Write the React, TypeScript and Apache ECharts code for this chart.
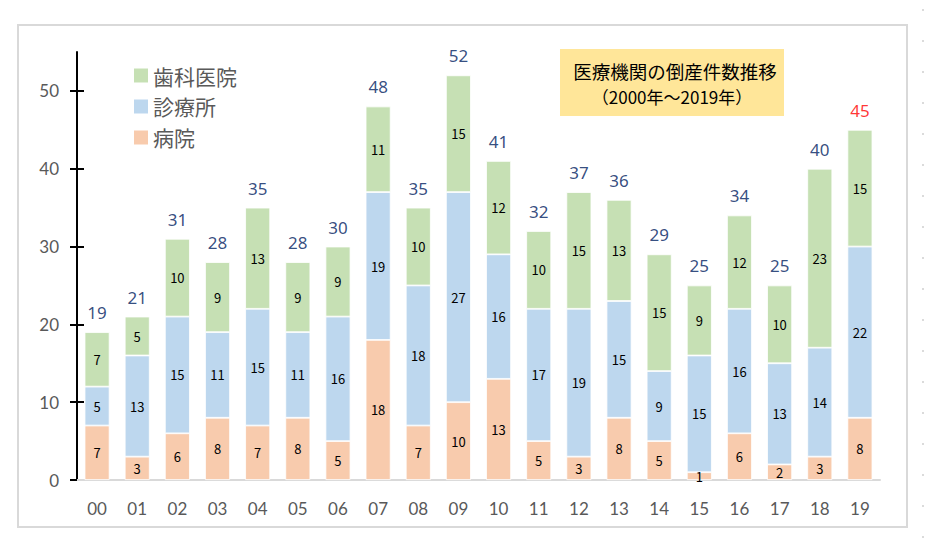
import React, { useEffect, useRef } from "react";
import * as echarts from "echarts";

const years = ["00","01","02","03","04","05","06","07","08","09","10","11","12","13","14","15","16","17","18","19"];
const hospital = [7,3,6,8,7,8,5,18,7,10,13,5,3,8,5,1,6,2,3,8];
const clinic = [5,13,15,11,15,11,16,19,18,27,16,17,19,15,9,15,16,13,14,22];
const dental = [7,5,10,9,13,9,9,11,10,15,12,10,15,13,15,9,12,10,23,15];
const totals = [19,21,31,28,35,28,30,48,35,52,41,32,37,36,29,25,34,25,40,45];
const yTicks = [0,10,20,30,40,50];
const seriesNames = ["病院","診療所","歯科医院"];
const titleLines = ["医療機関の倒産件数推移","（2000年～2019年）"];

const JP = "'Noto Sans CJK JP', sans-serif";
const NUM = "Lato, 'Noto Sans CJK JP', sans-serif";
const TOT = "'Noto Sans', 'Noto Sans CJK JP', sans-serif";

export default function App() {
  const ref = useRef<HTMLDivElement>(null);
  useEffect(() => {
    if (!ref.current) return;
    const chart = echarts.init(ref.current, null, { renderer: "svg" });
    const inside = {
      show: true,
      position: "inside",
      color: "#000",
      fontSize: 13,
      fontFamily: JP,
    };
    const barCommon = (name: string, data: number[], color: string) => ({
      name,
      type: "bar",
      stack: "total",
      barWidth: 25,
      data,
      itemStyle: { color, borderColor: "#ffffff", borderWidth: 0.8 },
      label: inside,
      emphasis: { disabled: true },
    });
    chart.setOption({
      animation: false,
      backgroundColor: "#ffffff",
      grid: { left: 77, right: 47, top: 52, bottom: 74, containLabel: false },
      legend: {
        data: ["歯科医院", "診療所", "病院"],
        orient: "vertical",
        left: 129,
        top: 60,
        icon: "rect",
        itemWidth: 14,
        itemHeight: 14,
        itemGap: 10,
        itemStyle: { borderWidth: 0 },
        textStyle: { fontSize: 21, color: "#595959", fontFamily: JP },
        selectedMode: false,
      },
      xAxis: {
        type: "category",
        data: years,
        axisLine: { show: true, lineStyle: { color: "#d9d9d9", width: 2 } },
        axisTick: { show: false },
        axisLabel: { color: "#595959", fontSize: 17, margin: 20, fontFamily: NUM },
      },
      yAxis: [
        {
          type: "value",
          min: 0,
          max: 55,
          position: "left",
          splitLine: { show: false },
          axisLine: { show: true, lineStyle: { color: "#000", width: 2 } },
          axisTick: { show: true, length: 7, lineStyle: { color: "#000", width: 2 }, customValues: yTicks },
          axisLabel: { color: "#595959", fontSize: 17, margin: 18, fontFamily: NUM, customValues: yTicks },
        },
        {
          type: "value",
          min: 0,
          max: 55,
          position: "left",
          splitLine: { show: false },
          axisLine: { show: false },
          axisTick: { show: true, inside: true, length: 7, lineStyle: { color: "#000", width: 2 }, customValues: yTicks.slice(1) },
          axisLabel: { show: false, customValues: yTicks },
        },
      ],
      series: [
        barCommon(seriesNames[0], hospital, "#F8CBAD"),
        barCommon(seriesNames[1], clinic, "#BDD7EE"),
        barCommon(seriesNames[2], dental, "#C6E0B4"),
        {
          name: "合計",
          type: "scatter",
          symbolSize: 2,
          itemStyle: { color: "rgba(0,0,0,0)" },
          data: totals.map((v, i) => ({
            value: v,
            label: i === totals.length - 1 ? { color: "#FF0000" } : undefined,
          })),
          label: {
            show: true,
            position: "top",
            distance: 10,
            color: "#002060",
            fontSize: 17,
            fontFamily: TOT,
            formatter: (p: any) => String(p.value),
          },
          emphasis: { disabled: true },
          z: 5,
        },
      ],
      graphic: [
        {
          type: "rect",
          shape: { x: 18, y: 25, width: 889, height: 502 },
          style: { fill: "none", stroke: "#d9d9d9", lineWidth: 2 },
          z: -10,
          silent: true,
        },
        {
          type: "line",
          shape: { x1: 923, y1: 9, x2: 923, y2: 554 },
          style: { stroke: "#cfcfcf", lineWidth: 1.5, lineDash: [2, 29] },
          silent: true,
        },
        {
          type: "rect",
          shape: { x: 560, y: 49, width: 224, height: 67 },
          style: { fill: "#FFE699" },
          silent: true,
        },
        {
          type: "text",
          x: 675,
          y: 71,
          style: {
            text: titleLines[0],
            fill: "#000",
            fontSize: 18.5,
            fontFamily: JP,
            align: "center",
            verticalAlign: "middle",
          },
          silent: true,
        },
        {
          type: "text",
          x: 672,
          y: 96,
          style: {
            text: titleLines[1],
            fill: "#000",
            fontSize: 17,
            fontFamily: JP,
            align: "center",
            verticalAlign: "middle",
          },
          silent: true,
        },
      ],
    });
    return () => chart.dispose();
  }, []);
  return (
    <div
      ref={ref}
      style={{ position: "fixed", left: 0, top: 0, width: 927, height: 554, background: "#fff" }}
    />
  );
}
